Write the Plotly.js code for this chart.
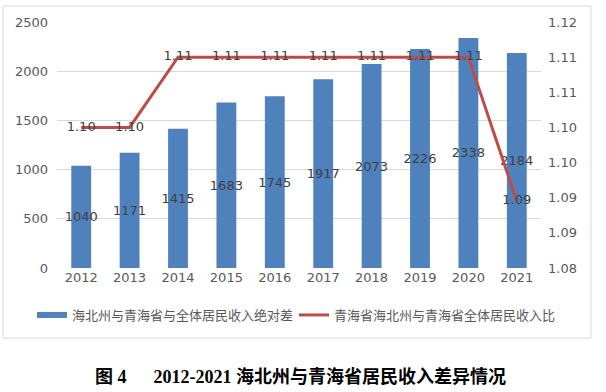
<!DOCTYPE html>
<html>
<head>
<meta charset="utf-8">
<script src="https://cdn.plot.ly/plotly-3.0.1.min.js"></script>
<style>html,body{margin:0;padding:0;background:#fff;}#chart{width:606px;height:392px;}</style>
</head>
<body>
<div id="chart"></div>
<script>
const years = ['2012','2013','2014','2015','2016','2017','2018','2019','2020','2021'];
const absDiff = [1040,1171,1415,1683,1745,1917,2073,2226,2338,2184];
const ratio = [1.100,1.100,1.110,1.110,1.110,1.110,1.110,1.110,1.110,1.0895];
const barName = '海北州与青海省与全体居民收入绝对差';
const lineName = '青海省海北州与青海省全体居民收入比';
const leftTicks = [0,500,1000,1500,2000,2500];
const rightTickVals = [1.08,1.085,1.09,1.095,1.10,1.105,1.11,1.115];
const rightTickLabels = ['1.08','1.09','1.09','1.10','1.10','1.11','1.11','1.12'];
const caption = '图 4&nbsp;&nbsp;&nbsp;&nbsp;&nbsp;&nbsp;2012-2021 海北州与青海省居民收入差异情况';

const baseFont = 'DejaVu Sans, Noto Sans CJK SC, sans-serif';
const barColor = '#4f81bd';
const lineColor = '#be4b48';

const traces = [
  {
    type: 'bar', x: years, y: absDiff, name: barName, showlegend: false,
    marker: {color: barColor},
    text: absDiff.map(String), textposition: 'inside', insidetextanchor: 'middle',
    constraintext: 'none', textangle: 0,
    textfont: {family: baseFont, size: 13, color: '#404040'},
    hoverinfo: 'none'
  },
  {
    type: 'scatter', mode: 'lines+text', x: years, y: ratio, yaxis: 'y2', name: lineName,
    legend: 'legend2',
    line: {color: lineColor, width: 3},
    text: ratio.map(v => v.toFixed(2)), textposition: 'middle center',
    textfont: {family: baseFont, size: 13, color: '#404040'},
    hoverinfo: 'none'
  },
  // legend-only key for the bar series (flat wide swatch like the original)
  {
    type: 'scatter', mode: 'lines', x: [null], y: [null], name: barName,
    legend: 'legend', line: {color: barColor, width: 6}, hoverinfo: 'none'
  }
];

const legFont = {family: 'Noto Sans CJK SC, sans-serif', size: 13, color: '#595959'};
const layout = {
  width: 606, height: 392,
  margin: {l: 57, r: 65, t: 22, b: 124},
  paper_bgcolor: '#fff', plot_bgcolor: '#fff',
  font: {family: baseFont, size: 13, color: '#595959'},
  bargap: 0.59,
  showlegend: true,
  legend: {orientation: 'h', x: -0.0517, xanchor: 'left', y: -0.191, yanchor: 'middle',
           font: legFont, bgcolor: 'rgba(0,0,0,0)'},
  legend2: {orientation: 'h', x: 0.4897, xanchor: 'left', y: -0.191, yanchor: 'middle',
           font: legFont, bgcolor: 'rgba(0,0,0,0)'},
  xaxis: {type: 'category', showgrid: false, zeroline: false, showline: false,
          tickfont: {size: 13, color: '#595959'}, ticks: '', fixedrange: true},
  yaxis: {range: [0, 2500], tickvals: leftTicks, showgrid: true, gridcolor: '#d9d9d9', gridwidth: 1,
          zeroline: false, showline: false, ticks: '', ticklabelstandoff: 8,
          tickfont: {size: 13, color: '#595959'}},
  yaxis2: {overlaying: 'y', side: 'right', range: [1.08, 1.115], tickvals: rightTickVals,
           ticktext: rightTickLabels, showgrid: false, zeroline: false, showline: false,
           ticks: '', ticklabelstandoff: 6, tickfont: {size: 13, color: '#595959'}},
  shapes: [
    {type: 'rect', xref: 'paper', yref: 'paper', x0: -0.1116, x1: 1.1033, y0: -0.285, y1: 1.065,
     line: {color: '#d9d9d9', width: 1}, fillcolor: 'rgba(0,0,0,0)', layer: 'below'}
  ],
  annotations: [
    {xref: 'paper', yref: 'paper', x: 0.504, y: -0.443, xanchor: 'center', yanchor: 'middle',
     showarrow: false, text: '<b>' + caption + '</b>',
     font: {family: 'Liberation Serif, Noto Sans CJK SC, serif', size: 18, color: '#000'}}
  ]
};

Plotly.newPlot('chart', traces, layout, {staticPlot: true, displayModeBar: false});
</script>
</body>
</html>
